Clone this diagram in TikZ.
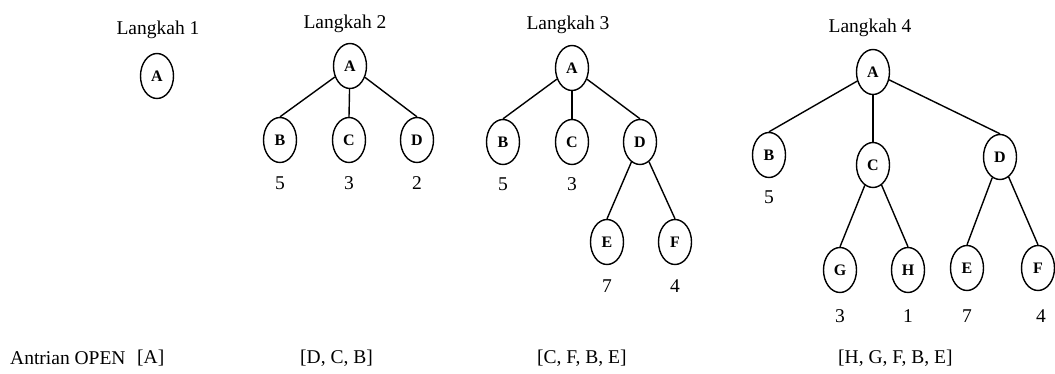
\documentclass[tikz,border=0pt]{standalone}
\usepackage{fontspec}
\setmainfont{Liberation Serif}
\usetikzlibrary{shapes.geometric}
\begin{document}
\begin{tikzpicture}[x=1pt,y=-1pt,
  nd/.style={draw,ellipse,line width=1.4pt,minimum width=33pt,minimum height=45pt,inner sep=0pt,font=\fontsize{16}{16}\selectfont\bfseries},
  ttl/.style={font=\fontsize{19.5}{19.5}\selectfont,inner sep=0pt},
  lbl/.style={font=\fontsize{19.5}{19.5}\selectfont,inner sep=0pt},
  edge/.style={line width=1.4pt}]
\useasboundingbox (0,0) rectangle (1055,374);
% Langkah 1
\node[ttl] (t1) at (158,30) {Langkah 1};
\node[nd] (a1) at (157,76) {A};
% Langkah 2
\node[ttl] (t2) at (345,24) {Langkah 2};
\node[nd] (a2) at (350,66) {A};
\node[nd] (b2) at (280,140) {B};
\node[nd] (c2) at (349,140) {C};
\node[nd] (d2) at (417,140) {D};
\node[lbl] (n2b) at (280,183) {5};
\node[lbl] (n2c) at (349,183) {3};
\node[lbl] (n2d) at (417,183) {2};
\draw[edge] (a2) -- (b2.north); \draw[edge] (a2) -- (c2.north); \draw[edge] (a2) -- (d2.north);
% Langkah 3
\node[ttl] (t3) at (568,25) {Langkah 3};
\node[nd] (a3) at (572,68) {A};
\node[nd] (b3) at (503,142) {B};
\node[nd] (c3) at (572,142) {C};
\node[nd] (d3) at (640,142) {D};
\node[nd] (e3) at (607,242) {E};
\node[nd] (f3) at (675,242) {F};
\node[lbl] (n3b) at (503,184) {5};
\node[lbl] (n3c) at (572,184) {3};
\node[lbl] (n3e) at (607,286) {7};
\node[lbl] (n3f) at (675,286) {4};
\draw[edge] (a3) -- (b3.north); \draw[edge] (a3) -- (c3.north); \draw[edge] (a3) -- (d3.north);
\draw[edge] (d3) -- (e3.north); \draw[edge] (d3) -- (f3.north);
% Langkah 4
\node[ttl] (t4) at (870,28) {Langkah 4};
\node[nd] (a4) at (873,72) {A};
\node[nd] (b4) at (769,155) {B};
\node[nd] (c4) at (873,165) {C};
\node[nd] (d4) at (1000,157) {D};
\node[nd] (g4) at (840,270) {G};
\node[nd] (h4) at (908,270) {H};
\node[nd] (e4) at (967,268) {E};
\node[nd] (f4) at (1038,268) {F};
\node[lbl] (n4b) at (769,197) {5};
\node[lbl] (n4g) at (840,316) {3};
\node[lbl] (n4h) at (908,316) {1};
\node[lbl] (n4e) at (967,316) {7};
\node[lbl] (n4f) at (1041,316) {4};
\draw[edge] (a4) -- (b4.north); \draw[edge] (a4) -- (c4.north); \draw[edge] (a4) -- (d4.north);
\draw[edge] (c4) -- (g4.north); \draw[edge] (c4) -- (h4.north);
\draw[edge] (d4) -- (e4.north); \draw[edge] (d4) -- (f4.north);
% Antrian OPEN
\node[lbl,anchor=west] (q0) at (10,358) {Antrian OPEN};
\node[lbl,anchor=west] (q1) at (137,358) {[A]};
\node[lbl,anchor=west] (q2) at (300,358) {[D, C, B]};
\node[lbl,anchor=west] (q3) at (537,358) {[C, F, B, E]};
\node[lbl,anchor=west] (q4) at (838,358) {[H, G, F, B, E]};
\end{tikzpicture}
\end{document}
